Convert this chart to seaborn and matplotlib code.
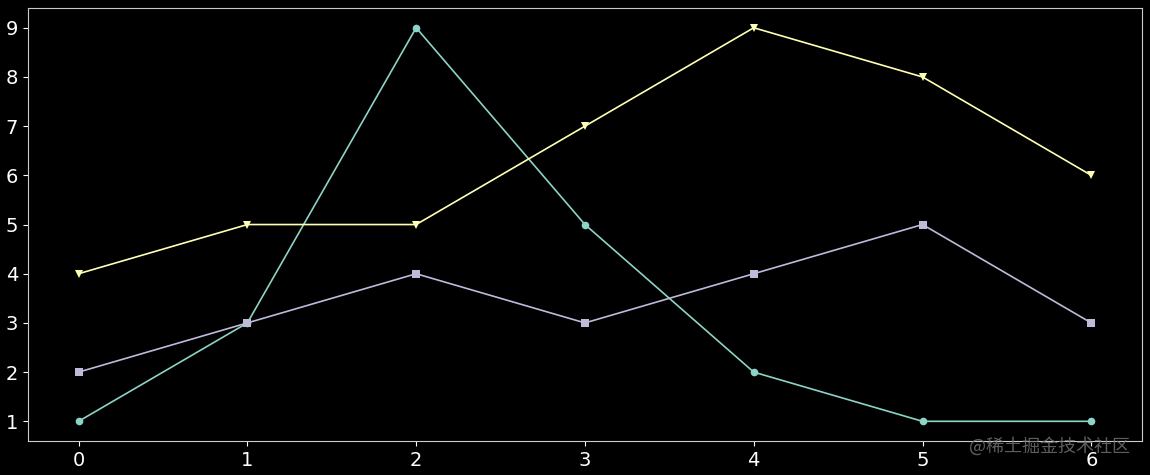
import numpy as np
import pandas as pd
import matplotlib
matplotlib.use("Agg")
import matplotlib.pyplot as plt
import seaborn as sns

x = [0, 1, 2, 3, 4, 5, 6]
circle_vals = [1, 3, 9, 5, 2, 1, 1]
triangle_vals = [4, 5, 5, 7, 9, 8, 6]
square_vals = [2, 3, 4, 3, 4, 5, 3]

plt.style.use("dark_background")
plt.rcParams['font.family'] = ['DejaVu Sans', 'Noto Sans CJK SC']

fig = plt.figure(figsize=(11.5, 4.75), dpi=100)
ax = fig.add_axes([0.0243, 0.0716, 0.9687, 0.9114])

colors = ["#8dd3c7", "#ffffb3", "#bebada"]
sns.lineplot(x=x, y=circle_vals, marker="o", color=colors[0], markersize=5.5,
             markeredgewidth=0, linewidth=1.2, ax=ax)
sns.lineplot(x=x, y=triangle_vals, marker="v", color=colors[1], markersize=6,
             markeredgewidth=0, linewidth=1.2, ax=ax)
sns.lineplot(x=x, y=square_vals, marker="s", color=colors[2], markersize=5.5,
             markeredgewidth=0, linewidth=1.2, ax=ax)

ax.set_xlim(-0.3, 6.3)
ax.set_ylim(0.6, 9.4)
ax.set_xticks(x)
ax.set_yticks(range(1, 10))
ax.tick_params(labelsize=14, colors="white")
for s in ax.spines.values():
    s.set_color("#cccccc")

# watermark
fig.text(0.983, 0.06, "@稀土掘金技术社区", color="#777777", fontsize=13,
         family=['Noto Sans CJK SC', 'DejaVu Sans'],
         ha="right", va="center", alpha=0.8)

fig.savefig("out.png", dpi=100, facecolor="black")
